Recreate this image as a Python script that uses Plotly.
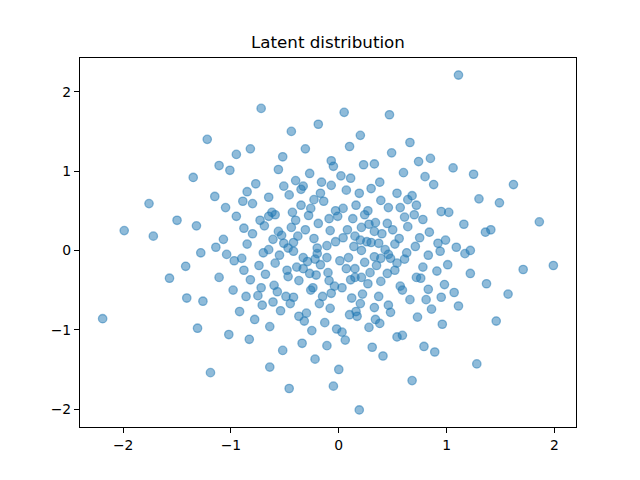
import plotly.graph_objects as go

# Latent points (x, y)
x_vals = [
    1.11, -0.72, 0.05, 0.47, -0.19, -0.44, 0.20, -1.22, 0.66, 0.10,
    -0.82, -0.31, 0.49, -0.95, -0.52, 0.85, -0.07, 0.74, 0.33, 0.23,
    -1.11, -0.05, 1.06, -0.56, -1.01, 0.60, -0.27, 1.25, 0.02, 0.80,
    -1.35, 0.11, -0.40, -0.16, 0.38, -0.77, 1.62, 0.88, -0.07, -0.51,
    -0.33, -0.35, 0.30, 0.07, -0.85, 0.19, 0.54, -0.17, -0.46, 0.68,
    -1.15, -0.65, 1.30, -0.23, 0.64, 0.39, -0.89, -0.14, 1.49, -1.76,
    -0.80, -0.35, 0.16, 0.72, -1.05, 0.46, 0.57, -0.26, 0.04, -0.03,
    -0.01, -0.09, -0.19, 0.27, 0.95, 1.02, -0.62, -0.59, -0.43, 0.24,
    0.70, -0.28, -0.95, -0.65, 0.61, 0.13, 0.78, -1.50, -0.73, -0.40,
    1.86, 0.34, 0.45, 1.16, 0.28, -1.32, -0.69, 0.64, -0.44, 0.21,
    -0.88, -0.31, 0.08, 0.50, 1.41, -1.99, -0.08, 0.40, -0.80, 0.84,
    1.36, 0.33, -0.56, -0.53, -0.38, -1.72, 0.15, 0.04, 0.75, -0.23,
    0.56, -1.07, -0.61, 0.99, 0.20, -0.03, 0.26, 0.30, -0.42, -0.51,
    0.37, 0.92, -0.11, -0.85, 0.52, 0.14, 0.71, 1.09, -1.14, -0.47,
    -0.20, -0.65, 0.43, 0.21, 1.22, -0.42, 0.94, -1.28, -0.70, 0.63,
    1.17, -0.20, -1.04, 0.46, -0.55, 0.83, 0.33, -0.11, -0.33, 0.09,
    -0.90, 0.39, 0.48, -0.22, 0.61, -0.97, 0.01, -0.29, 0.24, -0.59,
    0.54, 1.01, -0.17, -0.74, 0.35, 1.99, -1.42, -0.39, 0.78, -0.33,
    0.07, 0.15, 1.71, -0.88, -0.48, 0.52, 0.91, -0.10, 0.29, -0.27,
    0.45, 1.22, -0.68, -0.21, -0.47, -1.11, 0.15, 0.21, 0.72, 0.76,
    -1.57, -0.82, 0.11, -0.09, -0.37, 0.39, 0.27, 1.37, 0.98, -0.60,
    -0.04, 0.57, 0.03, -0.72, -0.24, 0.83, -0.26, -0.98, 0.59, -0.57,
    1.07, -0.07, 1.57, 0.22, -0.75, -0.86, -0.49, -0.15, 0.37, -0.42,
    0.95, -1.41, 0.12, 0.66, 0.81, -1.26, -0.61, -0.45, -0.18, 0.20,
    -0.71, 0.46, 1.11, 0.33, -0.08, 0.86, -0.54, -0.92, 0.16, 0.48,
    -0.30, 0.10, -0.37, 0.17, 0.73, -2.19, -0.78, 0.34, 1.46, -0.32,
    -0.13, 0.38, 0.96, -0.64, 0.28, -1.31, -0.02, -0.25, 0.03, -1.02,
    0.59, 0.54, -0.83, 0.06, -0.34, -0.11, 0.79, 0.31, -0.52, 0.89,
    0.41, -0.22, 1.28, -0.64, 0.00, -1.19, 0.68, -0.05, -0.46, 0.19,
]
y_vals = [
    2.21, 1.79, 1.74, 1.71, 1.59, 1.50, 1.45, 1.40, 1.36, 1.31,
    1.28, 1.28, 1.23, 1.21, 1.18, 1.16, 1.13, 1.12, 1.09, 1.08,
    1.07, 1.06, 1.04, 1.02, 1.01, 0.98, 0.97, 0.96, 0.94, 0.93,
    0.92, 0.91, 0.88, 0.86, 0.86, 0.84, 0.83, 0.83, 0.82, 0.81,
    0.81, 0.77, 0.78, 0.76, 0.74, 0.72, 0.72, 0.72, 0.70, 0.69,
    0.68, 0.67, 0.65, 0.64, 0.64, 0.63, 0.62, 0.62, 0.60, 0.59,
    0.59, 0.57, 0.57, 0.57, 0.54, 0.54, 0.54, 0.53, 0.53, 0.50,
    0.43, 0.40, 0.34, 0.50, 0.49, 0.48, 0.48, 0.45, 0.48, 0.45,
    0.45, 0.44, 0.43, 0.43, 0.42, 0.40, 0.39, 0.38, 0.38, 0.38,
    0.36, 0.35, 0.34, 0.33, 0.33, 0.31, 0.31, 0.30, 0.29, 0.29,
    0.28, 0.26, 0.26, 0.26, 0.26, 0.25, 0.25, 0.21, 0.21, 0.23,
    0.23, 0.24, 0.24, 0.19, 0.18, 0.18, 0.18, 0.16, 0.16, 0.15,
    0.15, 0.14, 0.14, 0.13, 0.13, 0.11, 0.11, 0.10, 0.10, 0.09,
    0.09, 0.09, 0.06, 0.08, 0.08, 0.05, 0.05, 0.04, 0.04, 0.03,
    0.03, 0.01, 0.01, 0.00, 0.00, -0.01, -0.01, -0.03, -0.03, -0.03,
    -0.04, -0.04, -0.05, -0.05, -0.06, -0.06, -0.08, -0.09, -0.09, -0.09,
    -0.10, -0.10, -0.10, -0.11, -0.11, -0.13, -0.13, -0.14, -0.15, -0.16,
    -0.16, -0.18, -0.18, -0.19, -0.19, -0.19, -0.20, -0.21, -0.21, -0.23,
    -0.23, -0.23, -0.24, -0.25, -0.25, -0.25, -0.26, -0.28, -0.28, -0.29,
    -0.29, -0.29, -0.30, -0.31, -0.33, -0.34, -0.34, -0.34, -0.34, -0.35,
    -0.35, -0.37, -0.37, -0.38, -0.38, -0.39, -0.42, -0.42, -0.43, -0.44,
    -0.45, -0.45, -0.47, -0.47, -0.47, -0.49, -0.50, -0.50, -0.50, -0.52,
    -0.53, -0.54, -0.55, -0.55, -0.57, -0.58, -0.58, -0.58, -0.58, -0.59,
    -0.59, -0.60, -0.60, -0.62, -0.62, -0.64, -0.65, -0.67, -0.67, -0.67,
    -0.69, -0.69, -0.70, -0.72, -0.73, -0.74, -0.76, -0.77, -0.77, -0.78,
    -0.79, -0.81, -0.83, -0.83, -0.84, -0.86, -0.87, -0.87, -0.89, -0.89,
    -0.91, -0.92, -0.93, -0.96, -0.97, -0.98, -0.99, -1.01, -1.03, -1.06,
    -1.07, -1.09, -1.12, -1.13, -1.17, -1.20, -1.21, -1.22, -1.26, -1.28,
    -1.33, -1.37, -1.43, -1.47, -1.50, -1.54, -1.64, -1.71, -1.74, -2.01,
]

title_text = "Latent distribution"
x_ticks = [-2, -1, 0, 1, 2]
y_ticks = [-2, -1, 0, 1, 2]

fig = go.Figure()
fig.add_trace(go.Scatter(
    x=x_vals, y=y_vals, mode="markers",
    marker=dict(size=8.4, color="rgba(31,119,180,0.5)",
                line=dict(width=1.3, color="rgba(31,119,180,0.5)")),
    hoverinfo="skip", showlegend=False,
))

axis_common = dict(
    showgrid=False, zeroline=False, showline=True, mirror=True,
    linecolor="black", linewidth=1.1, ticks="outside", ticklen=5,
    tickwidth=1.1, tickcolor="black",
    tickfont=dict(family="DejaVu Sans", size=13.9, color="black"),
)
fig.update_xaxes(range=[-2.40, 2.20], tickvals=x_ticks,
                 ticktext=[("−" + str(-v)) if v < 0 else str(v) for v in x_ticks],
                 **axis_common)
fig.update_yaxes(range=[-2.225, 2.425], tickvals=y_ticks,
                 ticktext=[("−" + str(-v)) if v < 0 else str(v) for v in y_ticks],
                 **axis_common)

fig.update_layout(
    width=640, height=480,
    margin=dict(l=80, r=64, t=58, b=53),
    paper_bgcolor="white", plot_bgcolor="white",
    annotations=[dict(text=title_text, x=0.5, y=1, xref="paper", yref="paper",
                      xanchor="center", yanchor="bottom", yshift=4,
                      showarrow=False,
                      font=dict(family="DejaVu Sans", size=16.7, color="black"))],
)
fig.write_html("out.html")
